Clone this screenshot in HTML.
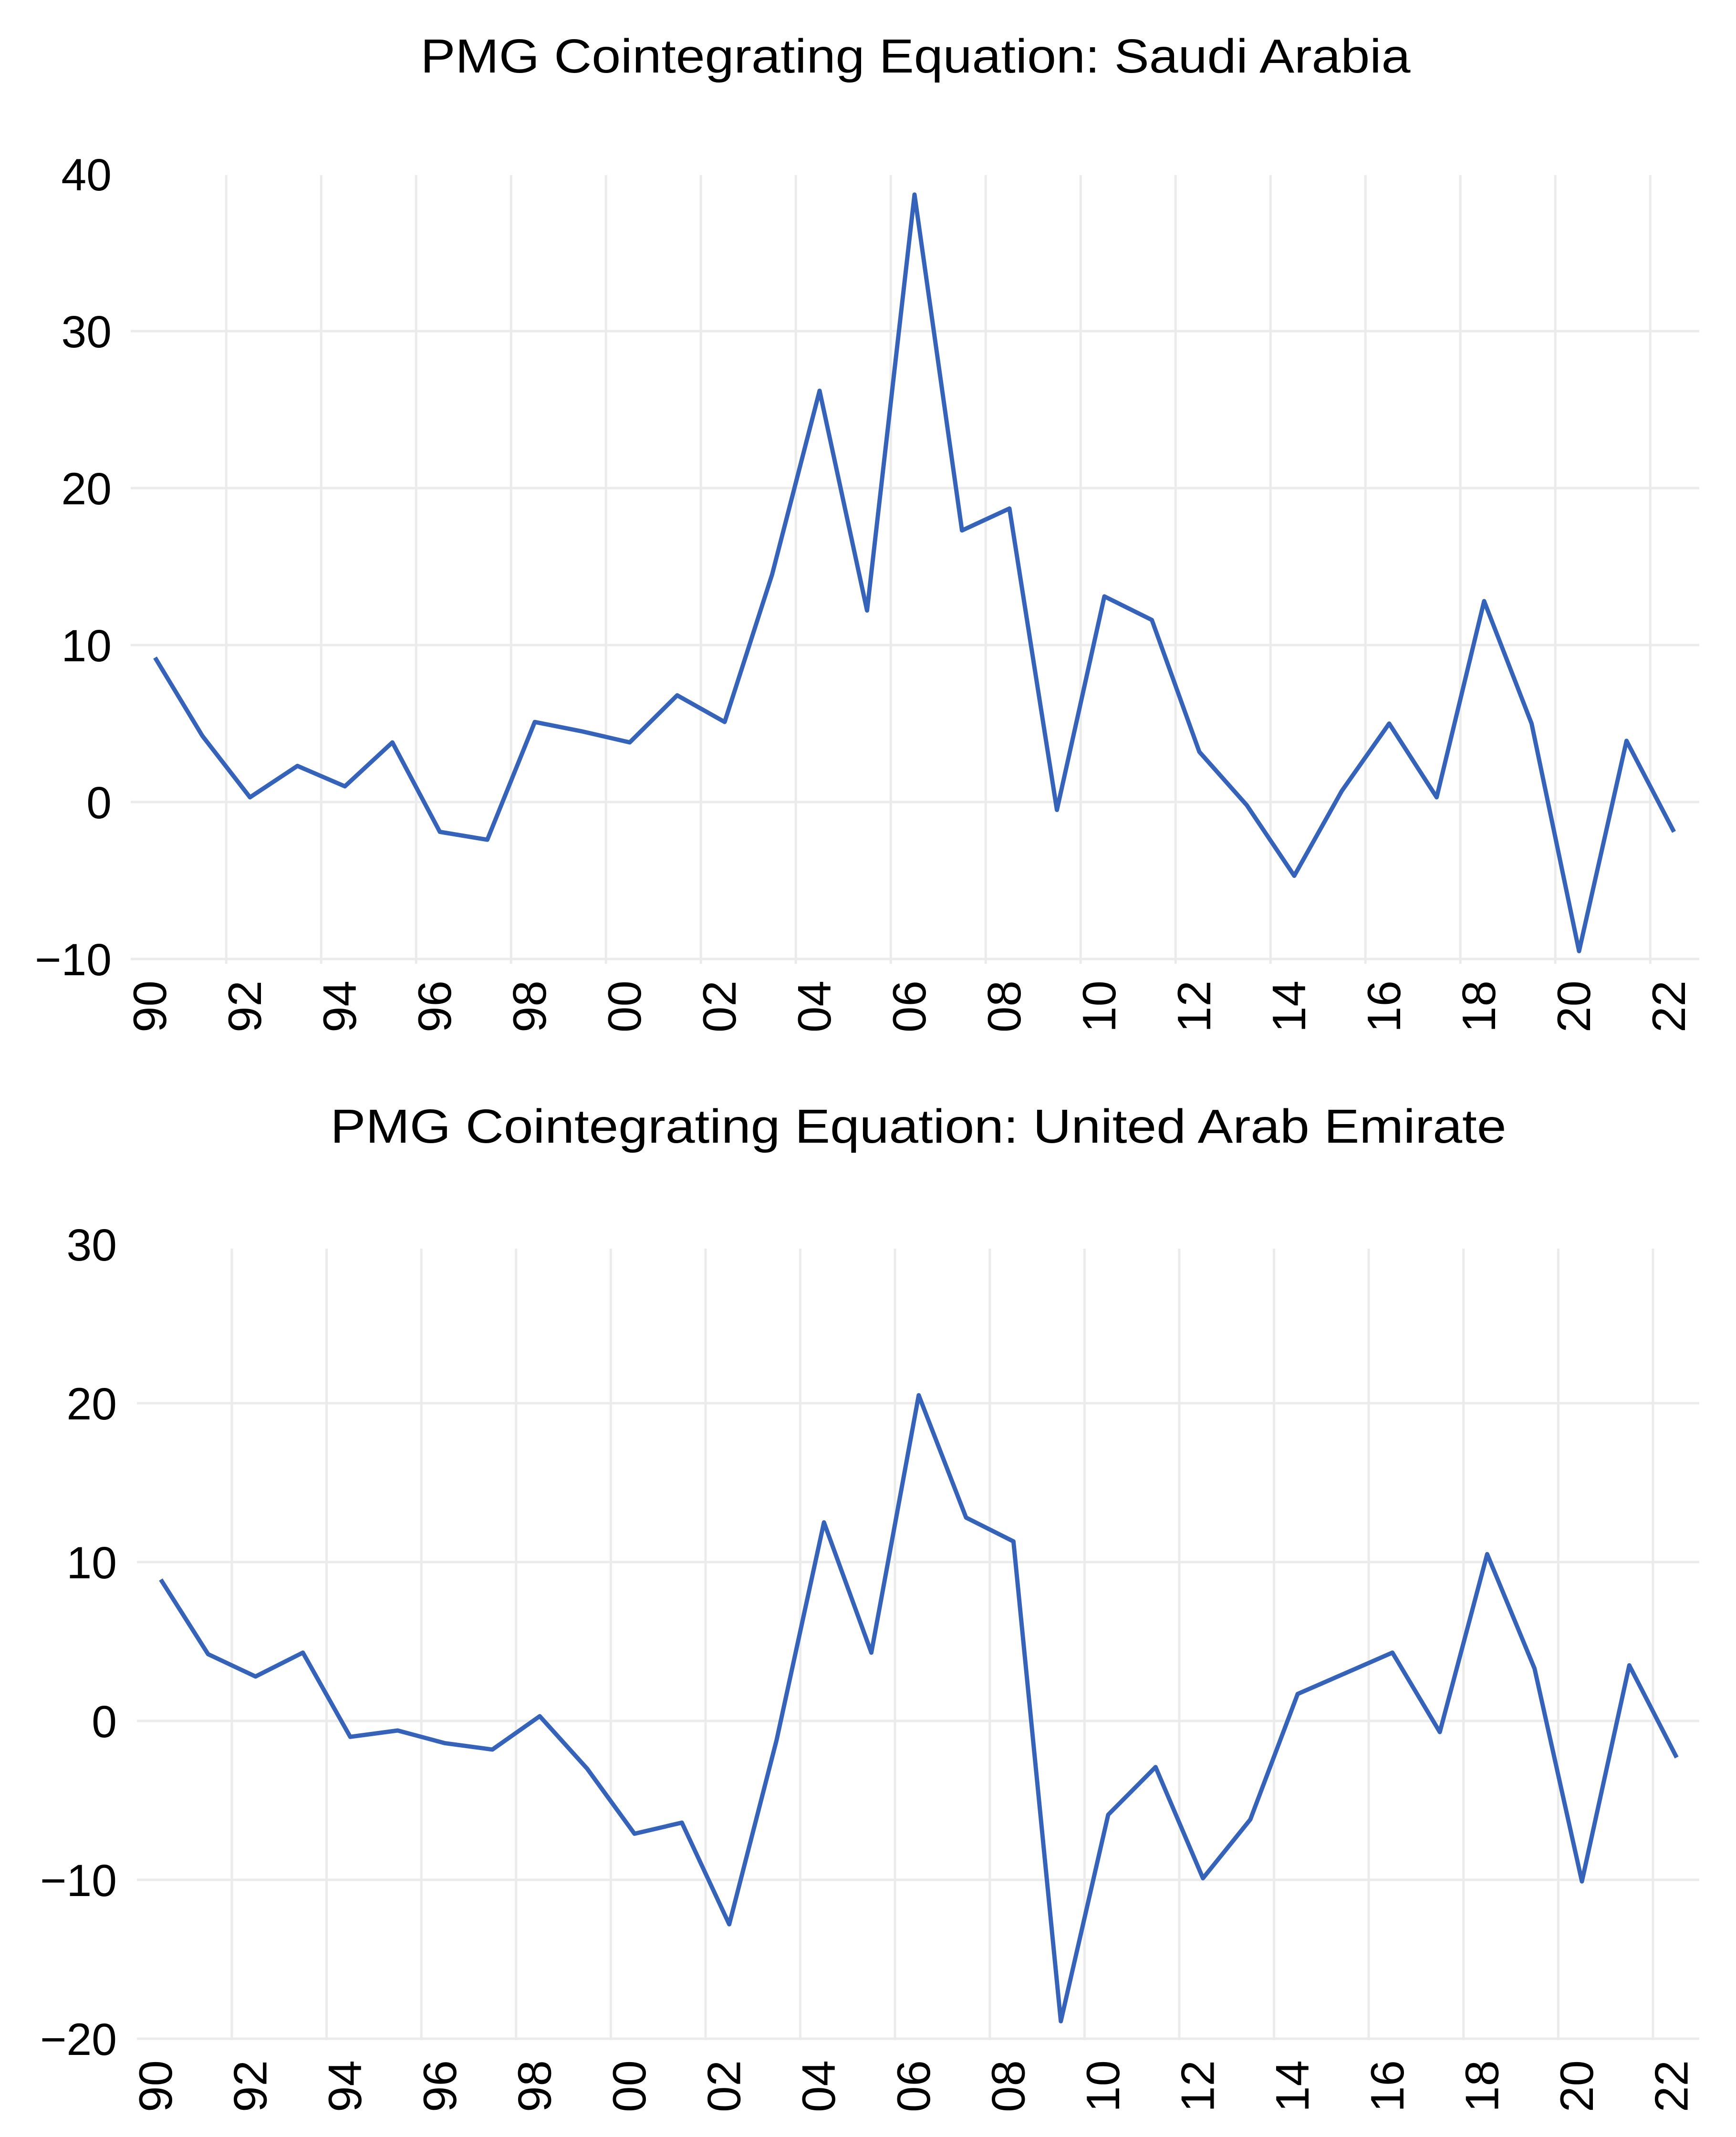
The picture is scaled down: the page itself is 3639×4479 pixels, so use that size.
<!DOCTYPE html>
<html><head><meta charset="utf-8"><style>
html,body{margin:0;padding:0;background:#fff}
svg{display:block}
text{font-family:"Liberation Sans",sans-serif;fill:#000}
</style></head><body>
<svg id="c" width="3639" height="4479" viewBox="0 0 3639 4479" xmlns="http://www.w3.org/2000/svg"></svg>
<script>
const years = [1990,1991,1992,1993,1994,1995,1996,1997,1998,1999,2000,2001,2002,2003,2004,2005,2006,2007,2008,2009,2010,2011,2012,2013,2014,2015,2016,2017,2018,2019,2020,2021,2022];
const saudiValues = [9.2,4.2,0.3,2.3,1.0,3.8,-1.9,-2.4,5.1,4.5,3.8,6.8,5.1,14.5,26.2,12.2,38.7,17.3,18.7,-0.5,13.1,11.6,3.2,-0.2,-4.7,0.7,5.0,0.3,12.8,5.0,-9.5,3.9,-1.9];
const uaeValues = [8.9,4.2,2.8,4.3,-1.0,-0.6,-1.4,-1.8,0.3,-3.0,-7.1,-6.4,-12.8,-1.2,12.5,4.3,20.5,12.8,11.3,-18.9,-5.9,-2.9,-9.9,-6.2,1.7,3.0,4.3,-0.7,10.5,3.3,-10.1,3.5,-2.3];
const saudiTicks = [40,30,20,10,0,-10];
const uaeTicks = [30,20,10,0,-10,-20];
const xTickYears = [1990,1992,1994,1996,1998,2000,2002,2004,2006,2008,2010,2012,2014,2016,2018,2020,2022];

const svg = document.getElementById('c');
const NS = 'http://www.w3.org/2000/svg';
function mk(tag, attrs, parent){
  const e = document.createElementNS(NS, tag);
  for (const k in attrs) e.setAttribute(k, attrs[k]);
  (parent||svg).appendChild(e);
  return e;
}
function lab(v){ return v<0 ? '\u2212'+Math.abs(v) : String(v); }

function drawPanel(cfg){
  const g = mk('g', {});
  
  
  const x = yr => cfg.x0 + (yr - 1990) * cfg.dx;
  const y = v => cfg.y0 - v * cfg.dy;
  const t = mk('text', {x: cfg.titleX, y: cfg.titleY, 'text-anchor':'middle', 'font-size':100, textLength: cfg.titleW, lengthAdjust:'spacingAndGlyphs'}, g);
  t.textContent = cfg.title;
  
  
  cfg.ticks.forEach(v => {
    if (v !== cfg.ticks[0]) {
      const l = mk('line', {x1: cfg.gridLeft, x2: 3562, y1: y(v), y2: y(v), stroke:'#ebebeb', 'stroke-width':5}, g);
      
      
    }
    const tl = mk('text', {x: cfg.labelRight, y: y(v) + 34, 'text-anchor':'end', 'font-size':95}, g);
    tl.textContent = lab(v);
    
    
  });
  for (let yr = 1991.5; yr < 2022; yr += 2) {
    const l = mk('line', {x1: x(yr), x2: x(yr), y1: cfg.gTop, y2: cfg.gBot, stroke:'#ebebeb', 'stroke-width':5}, g);
    
    
  }
  xTickYears.forEach(yr => {
    const px = x(yr) + 23;
    const tl = mk('text', {x: px, y: cfg.xLabTop, 'text-anchor':'end', 'font-size':98, transform:`rotate(-90 ${px} ${cfg.xLabTop})`}, g);
    tl.textContent = String(yr).slice(2);
    
    
  });
  const d = cfg.values.map((v,i) => (i?'L':'M') + x(years[i]).toFixed(1) + ' ' + y(v).toFixed(1)).join(' ');
  const p = mk('path', {d, fill:'none', stroke:'#3463b9', 'stroke-width':9, 'stroke-linejoin':'round'}, g);
  
  
}

drawPanel({name:'saudi-panel', title:'PMG Cointegrating Equation: Saudi Arabia', titleX:1919, titleY:152, titleW:2075,
  values:saudiValues, ticks:saudiTicks, x0:325, dx:99.5, y0:1681, dy:32.9, gridLeft:274, labelRight:234,
  gTop:367, gBot:2020, xLabTop:2055});
drawPanel({name:'uae-panel', title:'PMG Cointegrating Equation: United Arab Emirate', titleX:1925, titleY:2395, titleW:2465,
  values:uaeValues, ticks:uaeTicks, x0:337, dx:99.3, y0:3607, dy:33.3, gridLeft:287, labelRight:245,
  gTop:2617, gBot:4276, xLabTop:4318});
</script>
</body></html>
